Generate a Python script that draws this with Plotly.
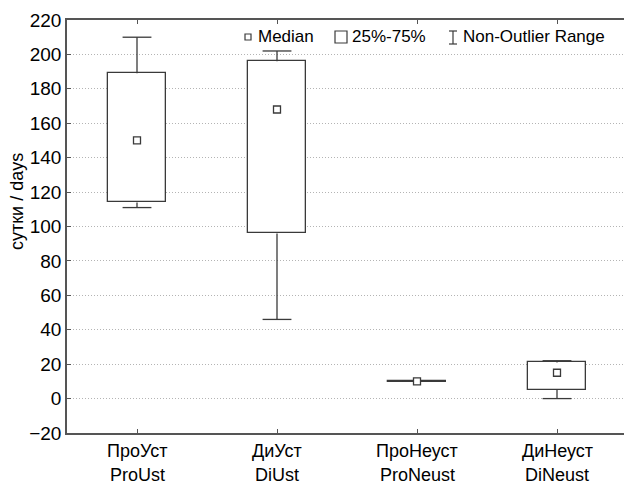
import plotly.graph_objects as go

# ---- data ----
categories_ru = ["ПроУст", "ДиУст", "ПроНеуст", "ДиНеуст"]
categories_en = ["ProUst", "DiUst", "ProNeust", "DiNeust"]
lower_whisker = [111, 46, 10, 0]
q1 = [114, 96, 9.7, 5]
median = [150, 168, 10, 15]
q3 = [189, 196, 10.3, 21]
upper_whisker = [210, 202, 10, 22]
y_ticks = [-20, 0, 20, 40, 60, 80, 100, 120, 140, 160, 180, 200, 220]

FONT = "Liberation Sans, Arial, sans-serif"
LINE = "#3a3a3a"
AX = "#555555"
BOX_W = 0.41
CAP_HALF = 0.103

W, H = 624, 485
L, R, T, B = 67, 0, 20, 52

xs = list(range(len(categories_ru)))

fig = go.Figure()

# boxes (25%-75%)
fig.add_trace(go.Bar(
    x=xs, base=q1, y=[b - a for a, b in zip(q1, q3)], width=BOX_W,
    marker=dict(color="white", line=dict(color=LINE, width=1.3)),
    hoverinfo="skip", showlegend=False))

# whiskers + caps
wx, wy = [], []
for i in xs:
    wx += [i, i, None, i, i, None]
    wy += [q3[i], upper_whisker[i], None, q1[i], lower_whisker[i], None]
    wx += [i - CAP_HALF, i + CAP_HALF, None, i - CAP_HALF, i + CAP_HALF, None]
    wy += [upper_whisker[i], upper_whisker[i], None, lower_whisker[i], lower_whisker[i], None]
fig.add_trace(go.Scatter(x=wx, y=wy, mode="lines", line=dict(color=LINE, width=1.3),
                         hoverinfo="skip", showlegend=False))

# medians
fig.add_trace(go.Scatter(x=xs, y=median, mode="markers",
                         marker=dict(symbol="square", size=7, color="white",
                                     line=dict(color=LINE, width=1.3)),
                         showlegend=False))

fig.update_layout(
    width=W, height=H, margin=dict(l=L, r=R, t=T, b=B),
    paper_bgcolor="white", plot_bgcolor="white",
    font=dict(family=FONT, size=18, color="black"),
    bargap=0,
    xaxis=dict(range=[-0.5, 3.5 - 3 / 140], tickvals=xs, ticktext=["" for _ in xs],
               showgrid=False, zeroline=False, showline=True, linecolor=AX, linewidth=1.5,
               mirror="ticks", ticks="inside", ticklen=4, tickcolor=AX),
    yaxis=dict(range=[-20, 220], tickvals=y_ticks, ticktext=[("−20" if v < 0 else str(v)) for v in y_ticks],
               showgrid=True, gridcolor="#b4b4b4", griddash="1px,2px", gridwidth=1,
               zeroline=False, showline=True, linecolor=AX, linewidth=1.5,
               ticks="inside", ticklen=4, tickcolor=AX,
               tickfont=dict(family=FONT, size=19)),
)

pw = W - L - R
ph = H - T - B
def px(x):
    return (x - L) / pw
def py(y):
    return (H - B - y) / ph

shapes = []
# legend: median square
shapes.append(dict(type="rect", xref="paper", yref="paper",
                   x0=px(245), x1=px(251), y0=py(40), y1=py(34),
                   line=dict(color=LINE, width=1.2), fillcolor="white"))
# legend: box
shapes.append(dict(type="rect", xref="paper", yref="paper",
                   x0=px(335), x1=px(347), y0=py(43), y1=py(31),
                   line=dict(color=LINE, width=1.2), fillcolor="white"))
# legend: whisker I
shapes.append(dict(type="line", xref="paper", yref="paper",
                   x0=px(453), x1=px(453), y0=py(44), y1=py(31), line=dict(color=LINE, width=1.2)))
shapes.append(dict(type="line", xref="paper", yref="paper",
                   x0=px(449), x1=px(457), y0=py(44), y1=py(44), line=dict(color=LINE, width=1.2)))
shapes.append(dict(type="line", xref="paper", yref="paper",
                   x0=px(449), x1=px(457), y0=py(31), y1=py(31), line=dict(color=LINE, width=1.2)))
fig.update_layout(shapes=shapes)

ann = []
for txt, x0 in [("Median", 256), ("25%-75%", 350), ("Non-Outlier Range", 461)]:
    ann.append(dict(text=txt, xref="paper", yref="paper", x=px(x0), y=py(37),
                    xanchor="left", yanchor="middle", showarrow=False,
                    font=dict(family=FONT, size=17, color="black")))
ann.append(dict(text="сутки / days", xref="paper", yref="paper", x=px(17), y=py(202),
                xanchor="center", yanchor="middle", textangle=-90, showarrow=False,
                font=dict(family=FONT, size=18, color="black")))
# category labels (two lines)
for i in xs:
    ann.append(dict(text=categories_ru[i], xref="x", yref="paper", x=i, y=py(451),
                    xanchor="center", yanchor="middle", showarrow=False,
                    font=dict(family=FONT, size=18, color="black")))
    ann.append(dict(text=categories_en[i], xref="x", yref="paper", x=i, y=py(475),
                    xanchor="center", yanchor="middle", showarrow=False,
                    font=dict(family=FONT, size=18, color="black")))
fig.update_layout(annotations=ann)

fig.write_html("out.html", config={"displayModeBar": False},
               post_script="document.body.style.margin='0';document.body.style.overflow='hidden';")
